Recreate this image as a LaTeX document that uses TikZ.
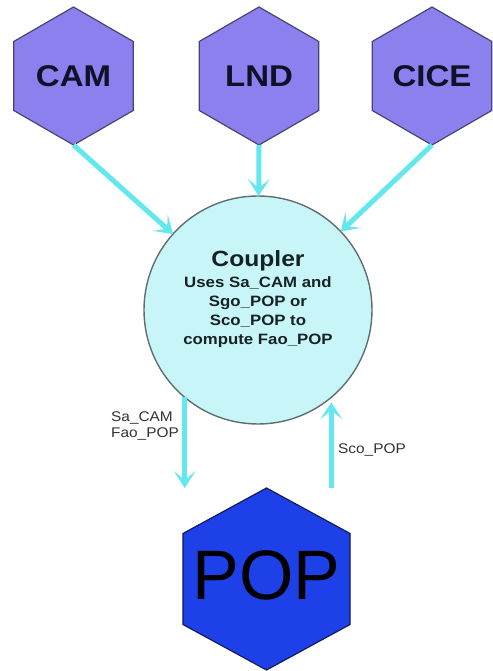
\documentclass[tikz,border=0pt]{standalone}
\usepackage{fontspec}
\setmainfont{Liberation Sans}
\newfontfamily\hexfont[FakeStretch=1.1]{Liberation Sans}
\newfontfamily\bodyfont[FakeStretch=1.12]{Liberation Sans}
\newfontfamily\lblfont[FakeStretch=1.1]{Liberation Sans}
\usetikzlibrary{shapes.geometric,arrows.meta}
\definecolor{hexfill}{RGB}{140,128,238}
\definecolor{hexline}{RGB}{72,70,112}
\definecolor{hextext}{RGB}{16,16,40}
\definecolor{circfill}{RGB}{200,246,248}
\definecolor{circline}{RGB}{95,110,112}
\definecolor{popfill}{RGB}{30,64,232}
\definecolor{popline}{RGB}{18,28,90}
\definecolor{flowcyan}{RGB}{100,232,240}
\definecolor{lbltext}{RGB}{50,50,50}
\definecolor{cptext}{RGB}{22,34,36}
\begin{document}
\begin{tikzpicture}[x=1pt,y=1pt,
  hexbox/.style={regular polygon, regular polygon sides=6, shape border rotate=30,
    minimum size=138pt, inner sep=0pt, outer sep=0pt, draw=hexline, fill=hexfill,
    line width=1.2pt, text=hextext, font=\hexfont\bfseries\fontsize{30}{30}\selectfont},
  flow/.style={draw=flowcyan, line width=5pt, -{Stealth[length=17pt,width=22pt,inset=9pt]}},
  cptitle/.style={anchor=base, inner sep=0pt, text=cptext, font=\bodyfont\bfseries\fontsize{22}{22}\selectfont},
  cpline/.style={anchor=base, inner sep=0pt, text=cptext, font=\bodyfont\bfseries\fontsize{15}{15}\selectfont},
  flowlabel/.style={anchor=base west, inner sep=0pt, text=lbltext, font=\lblfont\fontsize{14}{14}\selectfont}]
\useasboundingbox (0,0) rectangle (492,671);
\fill[white] (0,0) rectangle (492,671);
% model hexagons
\node[hexbox] (cam) at (73.5,595) {CAM};
\node[hexbox] (lnd) at (259,595) {LND};
\node[hexbox] (cice) at (432,595) {CICE};
% coupler
\node[circle, minimum size=228pt, inner sep=0pt, outer sep=0pt, draw=circline, fill=circfill, line width=1.4pt] (coupler) at (258,361) {};
\node[cptitle] (cpt) at (258,404) {Coupler};
\node[cpline] (cp1) at (258,383) {Uses Sa\_CAM and};
\node[cpline] (cp2) at (258,364) {Sgo\_POP or};
\node[cpline] (cp3) at (258,345) {Sco\_POP to};
\node[cpline] (cp4) at (258,326) {compute Fao\_POP};
% ocean
\node[hexbox, minimum size=182pt, fill=popfill, draw=popline, xscale=1.06, transform shape] (pop) at (266.5,92) {};
\node[inner sep=0pt, text=black, font=\fontsize{70}{70}\selectfont] (poptext) at (266.5,96) {POP};
% connectors
\draw[flow] (cam.270) -- (coupler);
\draw[flow] (lnd.270) -- (coupler);
\draw[flow] (cice.270) -- (coupler);
\draw[flow] (coupler.230) -- (coupler.230 |- pop.90);
\draw[flow, shorten >=5pt] (coupler.310 |- pop.90) -- (coupler.310);
% labels
\node[flowlabel] (l1) at (111,249) {Sa\_CAM};
\node[flowlabel] (l2) at (111,233) {Fao\_POP};
\node[flowlabel] (l3) at (338,217) {Sco\_POP};
\end{tikzpicture}
\end{document}
